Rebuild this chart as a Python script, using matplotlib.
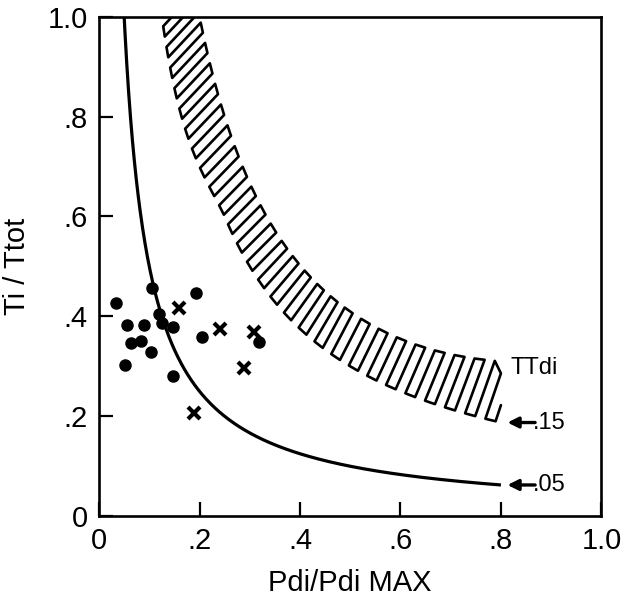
import numpy as np
import matplotlib
matplotlib.use("Agg")
import matplotlib.pyplot as plt

plt.rcParams["font.family"] = ["Liberation Sans", "DejaVu Sans"]

# Individual measurements
dots_x = [0.033, 0.1045, 0.194, 0.119, 0.055, 0.089, 0.126, 0.1475,
          0.063, 0.084, 0.104, 0.205, 0.0516, 0.1475, 0.319]
dots_y = [0.426, 0.457, 0.446, 0.405, 0.383, 0.383, 0.386, 0.379,
          0.346, 0.351, 0.328, 0.3595, 0.303, 0.280, 0.3495]
cross_x = [0.159, 0.240, 0.309, 0.288, 0.190]
cross_y = [0.416, 0.375, 0.369, 0.296, 0.2066]

# Iso-TTdi lines: Ti/Ttot = TTdi / (Pdi/PdiMAX)
ttdi_line = 0.05
band_low = 0.15
band_high = 0.20
band_bulge = 0.06
band_flare = 0.2
x_end = 0.8

tick_vals = [0, 0.2, 0.4, 0.6, 0.8, 1.0]
tick_text = ["0", ".2", ".4", ".6", ".8", "1.0"]

fig = plt.figure(figsize=(6.24, 6.01), dpi=100)
ax = fig.add_axes([0.1587, 0.1411, 0.8051, 0.8313])
ax.set_xlim(0, 1)
ax.set_ylim(0, 1)

# approximate axes size in pixels, used to space the band strokes evenly
PX, PY = 502.0, 500.0


def f_low(x):
    x = np.asarray(x, dtype=float)
    flare = band_flare * np.clip((0.25 - x) / 0.125, 0, None) ** 1.5
    return band_low / x - flare


def f_high(x):
    x = np.asarray(x, dtype=float)
    return band_high / x + band_bulge * np.clip((x - 0.3) / (x_end - 0.3), 0, None) ** 2


# TTdi = 0.05 curve
xc = np.linspace(ttdi_line / 1.05, x_end, 600)
ax.plot(xc, ttdi_line / xc, color="k", lw=2.3, solid_capstyle="butt")

# Hatched fatigue band drawn as a meander of slanted strokes
xs = np.linspace(0.11, x_end, 4000)
ys = f_low(xs)
seg = np.hypot(np.diff(xs) * PX, np.diff(ys) * PY)
arc = np.concatenate([[0], np.cumsum(seg)])
spacing = 10.5
targets = np.arange(0, arc[-1] - 3, spacing)
lx = np.interp(targets, arc, xs)
ly = f_low(lx)


def stroke_angle(x):
    return np.deg2rad(np.interp(x, [0.13, 0.3, 0.45, 0.8], [47, 45, 62, 72]))


def hit_upper(x0, y0):
    th = stroke_angle(x0)
    dx, dy = np.cos(th) / PX, np.sin(th) / PY
    lo, hi = 0.0, 300.0
    for _ in range(60):
        mid = 0.5 * (lo + hi)
        if y0 + mid * dy - f_high(x0 + mid * dx) < 0:
            lo = mid
        else:
            hi = mid
    ux, uy = x0 + lo * dx, y0 + lo * dy
    if ux > x_end:
        # strokes near the end of the band stop at its right edge
        s = (x_end - x0) / dx
        ux, uy = x_end, y0 + s * dy
    return ux, uy


lows, ups = [], []
for x0, y0 in zip(lx, ly):
    lows.append((x0, y0))
    ups.append(hit_upper(x0, y0))

path = []
for i in range(len(lows)):
    if i % 2 == 0:
        path += [lows[i], ups[i]]
    else:
        path += [ups[i], lows[i]]
px_, py_ = zip(*path)
ax.plot(px_, py_, color="k", lw=1.9, solid_joinstyle="round", solid_capstyle="round")

# Data points
ax.plot(dots_x, dots_y, "o", ms=8, color="k", mec="k")
ax.plot(cross_x, cross_y, "x", ms=8.5, mew=3, color="k")

# Labels on the right
ax.text(0.82, 0.297, "TTdi", fontsize=17, va="center", ha="left")
for yv, lab in [(band_low / x_end, ".15"), (ttdi_line / x_end, ".05")]:
    ax.annotate("", xy=(0.813, yv), xytext=(0.868, yv),
                arrowprops=dict(arrowstyle="-|>", color="k", lw=2.4,
                                mutation_scale=16, shrinkA=0, shrinkB=0))
    ax.text(0.863, yv, lab, fontsize=17, va="center", ha="left")

ax.set_xticks(tick_vals)
ax.set_xticklabels(tick_text)
ax.set_yticks(tick_vals)
ax.set_yticklabels(tick_text)
ax.tick_params(direction="in", length=10, width=1.6, top=False, right=False,
               labelsize=21, pad=8)
for sp in ax.spines.values():
    sp.set_linewidth(1.9)

ax.set_xlabel("Pdi/Pdi MAX", fontsize=21, labelpad=10)
ax.set_ylabel("Ti / Ttot", fontsize=21, labelpad=12)

fig.savefig("out.png", dpi=100)
